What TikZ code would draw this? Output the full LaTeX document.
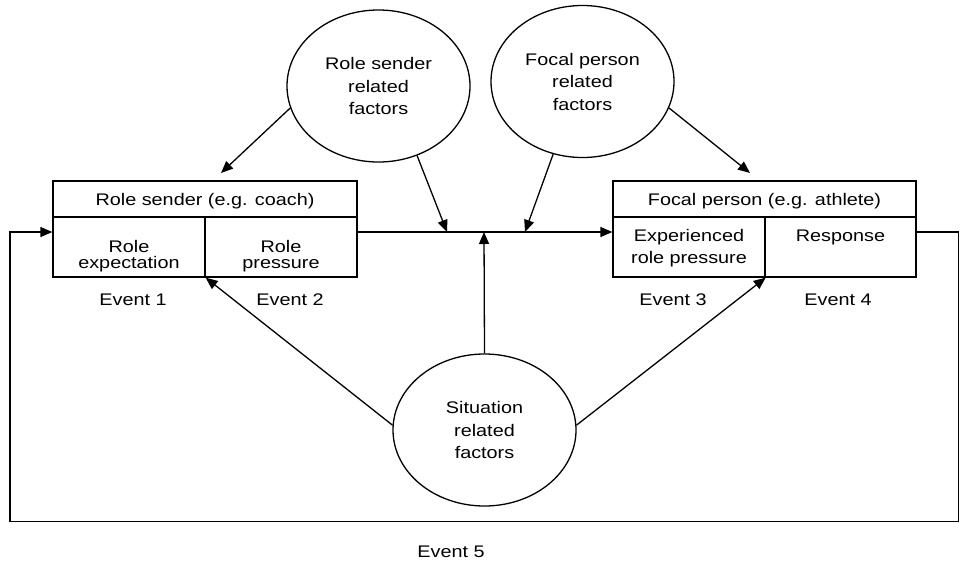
\documentclass[tikz,border=0pt]{standalone}
\usepackage{fontspec}
\setmainfont{Liberation Sans}[FakeStretch=1.18]
\usetikzlibrary{arrows.meta,shapes.geometric}
\begin{document}
\begin{tikzpicture}[x=1pt,y=-1pt,
  line width=1.3pt,
  every node/.style={font=\fontsize{16.8}{22}\selectfont, inner sep=0pt},
  arr/.style={-{Triangle[length=12pt,width=10pt]}},
  cell/.style={draw, rectangle, minimum height=60pt},
  head/.style={draw, rectangle, minimum height=36pt, text height=12pt, text depth=0pt},
  factor/.style={draw, ellipse, minimum width=183pt, minimum height=152pt, align=center,
    font=\fontsize{16.8}{22.5}\selectfont},
  ctext/.style={align=center, anchor=north},
  tight/.style={font=\fontsize{16.8}{15.5}\selectfont},
]
\fill[white] (0,0) rectangle (960,563);
\useasboundingbox (0,0) rectangle (960,563);

% role sender box
\node[head, minimum width=304pt] (rsHead) at (205,199) {Role sender (e.g. coach)};
\node[cell, minimum width=152pt] (rsExp) at (129,247) {};
\node[cell, minimum width=152pt] (rsPrs) at (281,247) {};
\node[ctext, tight] (rsExpT) at ([yshift=-23.5pt]rsExp.north) {Role\\expectation};
\node[ctext, tight] (rsPrsT) at ([yshift=-23.5pt]rsPrs.north) {Role\\pressure};

% focal person box
\node[head, minimum width=303pt] (fpHead) at (764.5,199) {Focal person (e.g. athlete)};
\node[cell, minimum width=152pt] (fpExp) at (689,247) {};
\node[cell, minimum width=151pt] (fpRsp) at (840.5,247) {};
\node[ctext] (fpExpT) at ([yshift=-12pt]fpExp.north) {Experienced\\role pressure};
\node[ctext] (fpRspT) at ([yshift=-12.5pt]fpRsp.north) {Response};

% factor ellipses
\node[factor] (rsF) at (378.5,86) {Role sender\\related\\factors};
\node[factor] (fpF) at (582.5,81.5) {Focal person\\related\\factors};
\node[factor] (sitF) at (484.5,430) {Situation\\related\\factors};

% event labels
\node (ev1) at (133,300) {Event 1};
\node (ev2) at (290,300) {Event 2};
\node (ev3) at (673,300) {Event 3};
\node (ev4) at (838,300) {Event 4};
\node (ev5) at (451,552) {Event 5};

% junction and free arrow ends
\coordinate (mid) at (484,232);
\coordinate (rsTip) at (221,173);
\coordinate (fpTip) at (750,173);
\coordinate (rsJoin) at (447,232);
\coordinate (fpJoin) at (525,232);
\coordinate (loopR) at (958.5,521.5);
\coordinate (loopL) at (10,521.5);

% connectors
\draw[arr] (rsPrs.east |- mid) -- (fpExp.west |- mid);
\draw[arr] (sitF.north) -- (mid);
\draw[arr] (rsF.194) -- (rsTip);
\draw[arr] (fpF.343) -- (fpTip);
\draw[arr] (rsF.299) -- (rsJoin);
\draw[arr] (fpF.248) -- (fpJoin);
\draw[arr] (sitF.177) -- (rsExp.south east);
\draw[arr] (sitF.3) -- (fpExp.south east);
\draw[arr] (fpRsp.east |- mid) -| (loopR) -- (loopL) |- (rsExp.west |- mid);
\end{tikzpicture}
\end{document}
